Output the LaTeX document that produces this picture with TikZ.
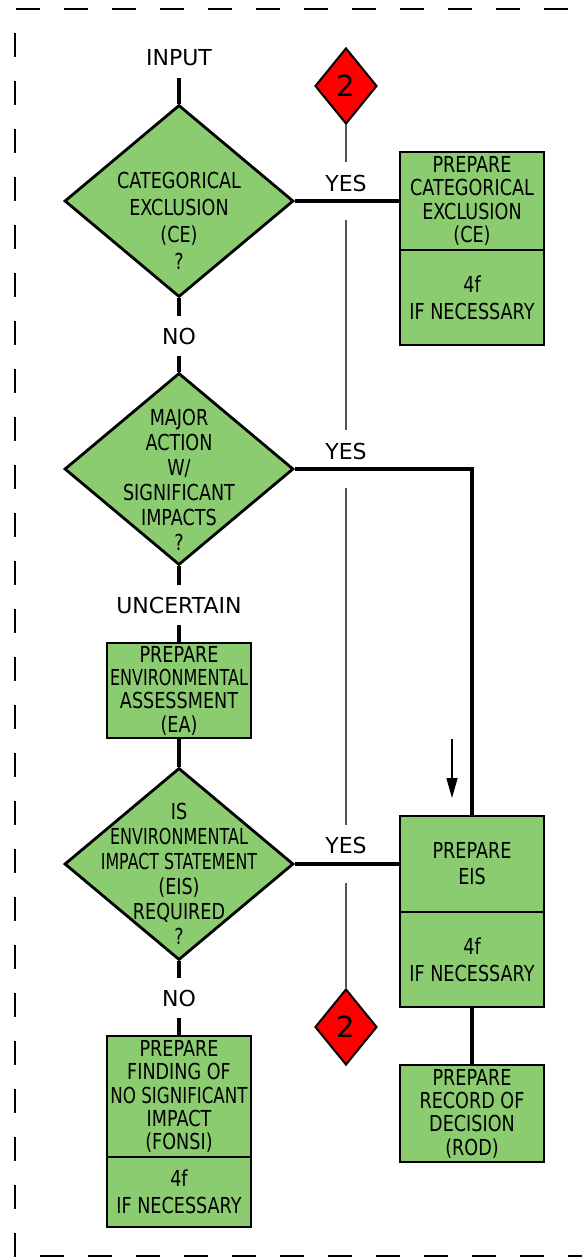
\documentclass[tikz,border=0pt]{standalone}
\usepackage{fontspec}
\usepackage{graphicx}
\setmainfont{DejaVu Sans}
\newfontfamily\boxfont[FakeStretch=0.8]{DejaVu Sans}
\newcommand{\squeeze}[2]{\scalebox{#1}[1]{#2}}
\usetikzlibrary{shapes.geometric,arrows.meta}
\definecolor{boxgreen}{HTML}{8BCC70}
\definecolor{linkgray}{HTML}{555555}
\tikzset{
  tag/.style={inner sep=0pt, minimum height=40pt, font=\fontsize{22}{25}\selectfont},
  decision/.style={diamond, draw, fill=boxgreen, line width=2.8pt, inner sep=0pt,
    minimum width=229pt, minimum height=192pt},
  dtext/.style={inner sep=0pt, align=center, font=\boxfont\fontsize{22}{25}\selectfont},
  stepbox/.style={rectangle, draw, fill=boxgreen, line width=2.8pt, inner sep=0pt,
    minimum width=144pt, align=center, font=\boxfont\fontsize{22}{23.3}\selectfont},
  fourbox/.style={stepbox, font=\boxfont\fontsize{22}{27}\selectfont},
  goto/.style={diamond, draw, fill=red, line width=2pt, inner sep=0pt,
    minimum width=62pt, minimum height=76pt, font=\fontsize{29}{29}\selectfont},
  link/.style={line width=4pt},
  thinlink/.style={line width=1.3pt, draw=linkgray},
  frame/.style={line width=2.2pt, dash pattern=on 24pt off 24pt}
}
\begin{document}
\begin{tikzpicture}[x=1pt,y=-1pt]

   \useasboundingbox (0,0) rectangle (581,1258);

   % dashed frame
   \draw [frame] (16,9) -- (640,9);
   \draw [frame] (15,33) -- (15,1300);
   \draw [frame] (40,1256) -- (640,1256);

   % left column
   \node (input) at (179,58) [tag] {INPUT};
   \node (ce) at (179,201) [decision] {};
   \node (cetext) at (179,221) [dtext, font=\boxfont\fontsize{22}{27.2}\selectfont] {CATEGORICAL\\EXCLUSION\\(CE)\\?};
   \node (no1) at (179,336) [tag] {NO};
   \node (major) at (179,469) [decision] {};
   \node (majortext) at (179,480) [dtext] {MAJOR\\ACTION\\W/\\SIGNIFICANT\\IMPACTS\\?};
   \node (uncertain) at (179,605) [tag] {UNCERTAIN};
   \node (eaprep) at (179,690.5) [stepbox, minimum height=95pt] {PREPARE\\\squeeze{0.91}{ENVIRONMENTAL}\\ASSESSMENT\\(EA)};
   \node (eisq) at (179,864) [decision] {};
   \node (eisqtext) at (179,874) [dtext] {IS\\\squeeze{0.91}{ENVIRONMENTAL}\\\squeeze{0.9}{IMPACT STATEMENT}\\(EIS)\\REQUIRED\\?};
   \node (no2) at (179,998) [tag] {NO};
   \node (fonsiprep) at (179,1096.5) [stepbox, minimum height=121pt] {PREPARE\\FINDING OF\\\squeeze{0.95}{NO SIGNIFICANT}\\IMPACT\\(FONSI)};
   \node (fonsifour) at (179,1192) [fourbox, minimum height=70pt] {4f\\IF NECESSARY};

   % right column
   \node (ceprep) at (472,201) [stepbox, minimum height=98pt] {PREPARE\\CATEGORICAL\\EXCLUSION\\(CE)};
   \node (cefour) at (472,297.5) [fourbox, minimum height=95pt] {4f\\IF NECESSARY};
   \node (eisprep) at (472,864) [stepbox, minimum height=96pt, font=\boxfont\fontsize{22}{26}\selectfont] {PREPARE\\EIS};
   \node (eisfour) at (472,959.5) [fourbox, minimum height=95pt] {4f\\IF NECESSARY};
   \node (rodprep) at (472,1113.5) [stepbox, minimum height=97pt] {PREPARE\\RECORD OF\\DECISION\\(ROD)};

   % yes labels and off-page marks
   \node (yes1) at (346,183) [tag] {YES};
   \node (yes2) at (346,451) [tag] {YES};
   \node (yes3) at (346,845) [tag] {YES};
   \node (goto1) at (346,86) [goto] {2};
   \node (goto2) at (346,1027) [goto] {2};

   \coordinate (g1) at (346,162);
   \coordinate (g2) at (346,220);
   \coordinate (g3) at (346,430);
   \coordinate (g4) at (346,488);
   \coordinate (g5) at (346,825);
   \coordinate (g6) at (346,883);
   \coordinate (arrtop) at (452,739);
   \coordinate (arrtip) at (452,798);

   \draw [link] (input.south) -- (ce.north);
   \draw [link] (ce.south) -- (no1.north);
   \draw [link] (no1.south) -- (major.north);
   \draw [link] (major.south) -- (uncertain.north);
   \draw [link] (uncertain.south) -- (eaprep.north);
   \draw [link] (eaprep.south) -- (eisq.north);
   \draw [link] (eisq.south) -- (no2.north);
   \draw [link] (no2.south) -- (fonsiprep.north);

   \draw [link] (ce.east) -- (ceprep.west);
   \draw [link] (major.east) -| (eisprep.north);
   \draw [link] (eisq.east) -- (eisprep.west);
   \draw [link] (eisfour.south) -- (rodprep.north);

   \draw [thinlink] (goto1.south) -- (g1);
   \draw [thinlink] (g2) -- (g3);
   \draw [thinlink] (g4) -- (g5);
   \draw [thinlink] (g6) -- (goto2.north);

   \draw [line width=1.5pt, -{Triangle[length=20pt,width=11pt]}] (arrtop) -- (arrtip);

\end{tikzpicture}
\end{document}
